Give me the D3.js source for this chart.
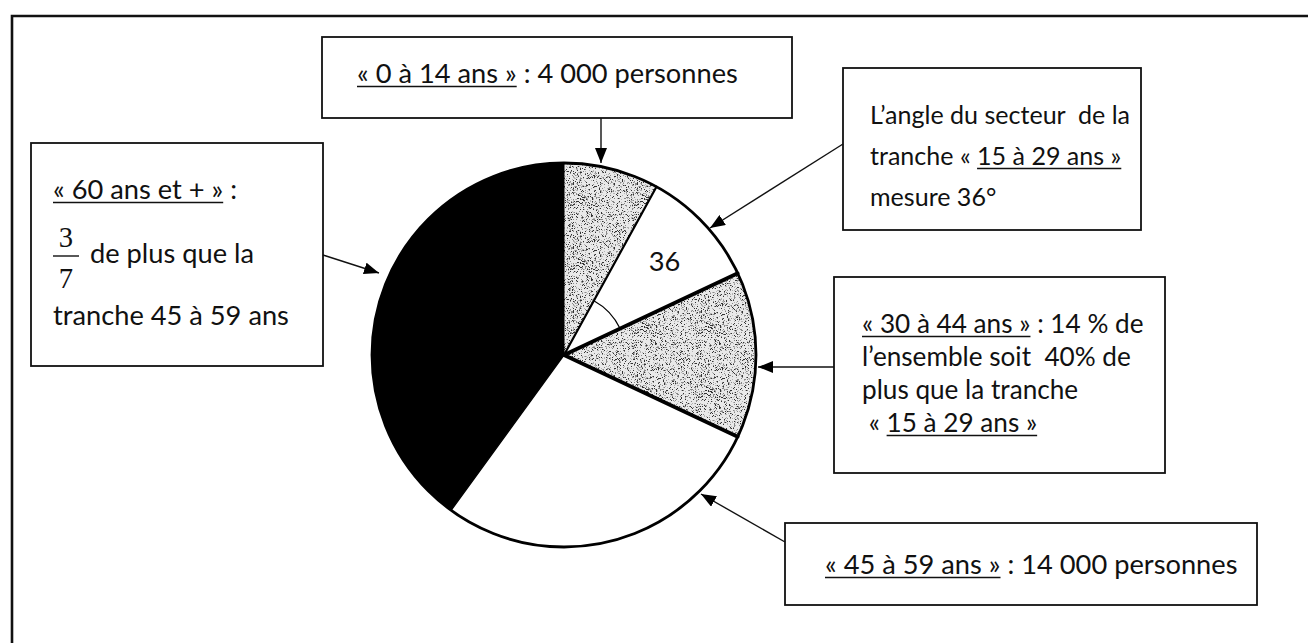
<!DOCTYPE html>
<html><head><meta charset="utf-8">
<script src="https://cdn.jsdelivr.net/npm/d3@7"></script>
<style>
html,body{margin:0;padding:0;background:#fff;}
svg{display:block;}
text{font-family:Lato,"Open Sans",sans-serif;fill:#111;white-space:pre;}
</style></head><body>
<svg id="chart" width="1308" height="643"></svg>
<script>
// ---------- DATA ----------
const categories = ["0 à 14 ans","15 à 29 ans","30 à 44 ans","45 à 59 ans","60 ans et +"];
const persons    = [4000, 5000, 7000, 14000, 20000];
const sliceFills = ["stipple","white","stipple","white","black"];
const angleLabelSlice = 1; // slice whose angle is marked
// annotation texts: each line = list of [text, underlined]
const noteA = [[["« 0 à 14 ans »",1],[" : 4 000 personnes",0]]];
const noteB = [[["L’angle du secteur  de la",0]],[["tranche « ",0],["15 à 29 ans »",1]],[["mesure 36°",0]]];
const noteC = [[["« 30 à 44 ans »",1],[" : 14 % de",0]],[["l’ensemble soit  40% de",0]],[["plus que la tranche",0]],[[" « ",0],["15 à 29 ans »",1]]];
const noteD = [[["« 45 à 59 ans »",1],[" : 14 000 personnes",0]]];
const noteE = [[["« 60 ans et + »",1],[" :",0]],[["de plus que la",0]],[["tranche 45 à 59 ans",0]]];
const fractionE = ["3","7"];

// ---------- LAYOUT ----------
const W = 1308, H = 643;
const cx = 564, cy = 355, R = 192;
const boxes = [
  {note:noteA, x:322, y:37,  w:470, h:81,  k:1,    tx:[357], ty:[83]},
  {note:noteB, x:843, y:68,  w:298, h:162, k:0.92, tx:[870,870,870], ty:[124,165,206]},
  {note:noteC, x:834, y:277, w:331, h:196, k:0.96, tx:[862,862,862,862], ty:[333,366,399,432]},
  {note:noteD, x:785, y:523, w:472, h:82,  k:1,    tx:[825], ty:[574]},
  {note:noteE, x:31,  y:143, w:292, h:223, k:1,    tx:[53,90,53], ty:[199,263,325]}
];
const arrows = [
  {x1:601, y1:118, x2:601, y2:163},
  {x1:843, y1:144, x2:710, y2:228},
  {x1:834, y1:367, x2:758, y2:367},
  {x1:785, y1:542, x2:701, y2:494},
  {x1:323, y1:255, x2:379, y2:273}
];

const svg = d3.select("#chart");
const defs = svg.append("defs");

// stipple texture (deterministic)
const T = 64;
const pat = defs.append("pattern").attr("id","stipple").attr("patternUnits","userSpaceOnUse")
  .attr("width",T).attr("height",T);
pat.append("rect").attr("width",T).attr("height",T).attr("fill","#e9e9e9");
let seed = 987654;
const rnd = () => (seed = (seed * 16807) % 2147483647) / 2147483647;
for (let i = 0; i < 1300; i++) {
  const px = Math.floor(rnd()*T), py = Math.floor(rnd()*T), g = rnd();
  pat.append("rect").attr("x",px).attr("y",py).attr("width",1).attr("height",1)
    .attr("fill", g < 0.3 ? "#333" : (g < 0.65 ? "#888" : "#b4b4b4"));
}

defs.append("marker").attr("id","arrow").attr("viewBox","0 0 10 10")
  .attr("refX",10).attr("refY",5).attr("markerWidth",15).attr("markerHeight",12)
  .attr("markerUnits","userSpaceOnUse").attr("orient","auto").attr("preserveAspectRatio","none")
  .append("path").attr("d","M0,0L10,5L0,10Z").attr("fill","#000");

// outer frame (top + left visible)
svg.append("path").attr("d",`M12,${H+5}L12,16L${W+5},16`).attr("fill","none")
  .attr("stroke","#111").attr("stroke-width",2.6);

// ---------- PIE ----------
const pieData = d3.pie().sort(null).value(d => d)(persons);
const arcGen = d3.arc().innerRadius(0).outerRadius(R);
const g = svg.append("g").attr("transform",`translate(${cx},${cy})`);

g.selectAll("path.slice").data(pieData).join("path").attr("class","slice")
  .attr("d",arcGen)
  .attr("fill",(d,i) => sliceFills[i] === "stipple" ? "url(#stipple)" : sliceFills[i] === "black" ? "#000" : "#fff");

// radii (slice boundaries)
const radW = [1, 2.2, 3.6, 3.6, 1.3];
g.selectAll("line.radius").data(pieData).join("line").attr("class","radius")
  .attr("x1",0).attr("y1",0)
  .attr("x2",d => R*Math.sin(d.startAngle)).attr("y2",d => -R*Math.cos(d.startAngle))
  .attr("stroke","#000").attr("stroke-width",(d,i) => radW[i]).attr("stroke-linecap","round");

// outer circle
g.append("circle").attr("r",R).attr("fill","none").attr("stroke","#000").attr("stroke-width",2.8);

// angle mark
const sA = pieData[angleLabelSlice];
g.append("path").attr("d", d3.arc().innerRadius(62).outerRadius(62)({startAngle:sA.startAngle,endAngle:sA.endAngle}))
  .attr("fill","none").attr("stroke","#000").attr("stroke-width",1.2);
const lab = d3.arc().innerRadius(138).outerRadius(138).centroid(sA);
const deg = Math.round((sA.endAngle - sA.startAngle) * 180 / Math.PI);

// ---------- FONT FIT ----------
const probe = svg.append("text").attr("font-size",100).text("« 0 à 14 ans » : 4 000 personnes");
const fs = 381 / probe.node().getComputedTextLength() * 100;
probe.remove();

g.append("text").attr("x",lab[0]).attr("y",lab[1]).attr("text-anchor","middle")
  .attr("dominant-baseline","central").attr("font-size",fs).text(deg);

// ---------- BOXES ----------
boxes.forEach(b => {
  svg.append("rect").attr("x",b.x).attr("y",b.y).attr("width",b.w).attr("height",b.h)
    .attr("fill","#fff").attr("stroke","#111").attr("stroke-width",1.8);
  b.note.forEach((line, li) => {
    const t = svg.append("text").attr("x",b.tx[li]).attr("y",b.ty[li]).attr("font-size",fs*b.k);
    const spans = line.map(seg => t.append("tspan").text(seg[0]));
    let xx = b.tx[li];
    line.forEach((seg, si) => {
      const len = spans[si].node().getComputedTextLength();
      if (seg[1]) {
        svg.append("line").attr("x1",xx).attr("x2",xx+len)
          .attr("y1",b.ty[li]+3.5).attr("y2",b.ty[li]+3.5)
          .attr("stroke","#111").attr("stroke-width",1.4);
      }
      xx += len;
    });
  });
});

// fraction 3/7 in box E
const fr = {x:66, bar:256};
svg.append("text").attr("x",fr.x).attr("y",fr.bar-9).attr("text-anchor","middle")
  .attr("font-size",fs*1.05).style("font-family","'Liberation Serif',serif").text(fractionE[0]);
svg.append("line").attr("x1",fr.x-13).attr("x2",fr.x+13).attr("y1",fr.bar).attr("y2",fr.bar)
  .attr("stroke","#111").attr("stroke-width",1.4);
svg.append("text").attr("x",fr.x).attr("y",fr.bar+32).attr("text-anchor","middle")
  .attr("font-size",fs*1.05).style("font-family","'Liberation Serif',serif").text(fractionE[1]);

// ---------- ARROWS ----------
svg.selectAll("line.arrow").data(arrows).join("line").attr("class","arrow")
  .attr("x1",d => d.x1).attr("y1",d => d.y1).attr("x2",d => d.x2).attr("y2",d => d.y2)
  .attr("stroke","#111").attr("stroke-width",1.4).attr("marker-end","url(#arrow)");
</script>
</body></html>
